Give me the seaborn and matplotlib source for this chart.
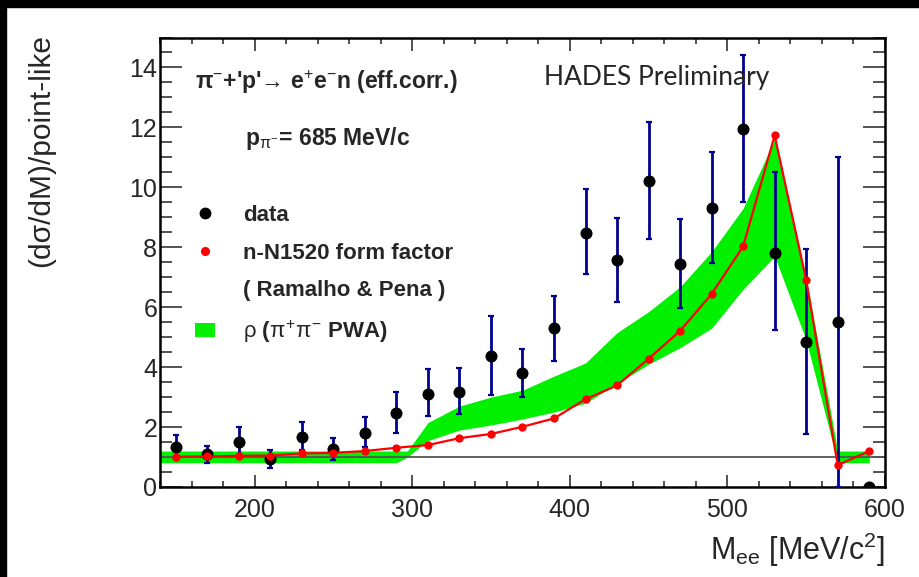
import numpy as np
import pandas as pd
import matplotlib
matplotlib.use("Agg")
import matplotlib.pyplot as plt
import seaborn as sns
from matplotlib.lines import Line2D
from matplotlib.patches import Patch, Rectangle
from matplotlib.ticker import MultipleLocator

# --- values ---
mass = [150, 170, 190, 210, 230, 250, 270, 290, 310, 330, 350, 370,
        390, 410, 430, 450, 470, 490, 510, 530, 550, 570, 590]
data_ratio = [1.34, 1.10, 1.51, 0.93, 1.68, 1.27, 1.79, 2.46, 3.12, 3.17, 4.38, 3.79,
              5.31, 8.49, 7.58, 10.20, 7.43, 9.31, 11.94, 7.82, 4.84, 5.49, 0.0]
err_hi = [1.73, 1.38, 1.99, 1.23, 2.16, 1.63, 2.34, 3.17, 3.93, 3.98, 5.70, 4.59,
          6.38, 9.93, 8.98, 12.18, 8.94, 11.18, 14.42, 10.50, 7.95, 11.01, 0.0]
err_lo = [0.95, 0.80, 1.05, 0.63, 1.22, 0.90, 1.34, 1.79, 2.37, 2.43, 3.07, 3.01,
          4.21, 7.12, 6.18, 8.27, 5.96, 7.46, 9.51, 5.23, 1.76, 0.0, 0.0]
model_ff = [1.01, 1.02, 1.04, 1.05, 1.12, 1.14, 1.20, 1.31, 1.40, 1.63, 1.77, 2.01,
            2.29, 2.93, 3.39, 4.28, 5.21, 6.44, 8.03, 11.73, 6.90, 0.73, 1.20]

# rho (pi+ pi- PWA) band
band_x = [140, 290, 297, 310, 330, 350, 370, 390, 410, 430, 450, 470,
          490, 510, 530, 550, 570, 590]
band_lo = [0.81, 0.81, 1.00, 1.55, 1.90, 2.07, 2.27, 2.50, 2.80, 3.45, 4.10, 4.65,
           5.30, 6.60, 7.70, 4.90, 0.81, 0.81]
band_hi = [1.20, 1.20, 1.20, 2.15, 2.70, 3.00, 3.23, 3.70, 4.14, 5.15, 5.85, 6.68,
           7.85, 9.30, 11.60, 7.00, 1.20, 1.20]

df = pd.DataFrame({"mass": mass, "data": data_ratio, "model": model_ff})

sns.set_style("ticks")
plt.rcParams["font.family"] = ["Liberation Sans", "DejaVu Sans"]
plt.rcParams["mathtext.fontset"] = "custom"
plt.rcParams["mathtext.rm"] = "Liberation Sans"
plt.rcParams["mathtext.it"] = "Liberation Sans"
plt.rcParams["mathtext.bf"] = "Liberation Sans:bold"

fig = plt.figure(figsize=(9.2, 5.77), dpi=100)
ax = fig.add_axes([160 / 920, 1 - 487 / 577, 725 / 920, (487 - 37.5) / 577])

# black frame strips of the slide
fig.add_artist(Rectangle((0, 1 - 7 / 577), 1, 7 / 577, transform=fig.transFigure,
                         color="black", zorder=10))
fig.add_artist(Rectangle((0, 0), 6 / 920, 1, transform=fig.transFigure,
                         color="black", zorder=10))

ax.fill_between(band_x, band_lo, band_hi, color="#00f000", lw=0, zorder=1)
ax.axhline(1, color="#555555", lw=1.3, zorder=2)

yerr = [np.array(data_ratio) - np.array(err_lo), np.array(err_hi) - np.array(data_ratio)]
ax.errorbar(mass, data_ratio, yerr=yerr, fmt="none", ecolor="#00008f",
            elinewidth=2.0, capsize=2.2, capthick=1.6, zorder=3)
sns.scatterplot(data=df, x="mass", y="data", color="black", s=75, linewidth=0,
                ax=ax, zorder=4, clip_on=True)
sns.lineplot(data=df, x="mass", y="model", color="red", lw=1.6, marker="o",
             markersize=6, markeredgewidth=0, ax=ax, zorder=5)

ax.set_xlim(140, 600)
ax.set_ylim(0, 15)
ax.xaxis.set_major_locator(MultipleLocator(100))
ax.xaxis.set_minor_locator(MultipleLocator(20))
ax.yaxis.set_major_locator(MultipleLocator(2))
ax.yaxis.set_minor_locator(MultipleLocator(0.5))
ax.tick_params(axis="y", which="both", direction="in", left=True, right=True,
               labelsize=18, color="#333333", width=1.2, pad=2)
ax.tick_params(axis="y", which="major", length=16)
ax.tick_params(axis="y", which="minor", length=8.5)
ax.tick_params(axis="x", which="both", direction="in", bottom=True, top=True,
               labelsize=18, color="#333333", width=1.2, pad=8)
ax.tick_params(axis="x", which="major", length=9)
ax.tick_params(axis="x", which="minor", length=4)
for s in ax.spines.values():
    s.set_linewidth(1.8)
    s.set_color("black")

ax.set_xlabel(r"M$_{\rm ee}$ [MeV/c$^{2}$]", fontsize=22, loc="right", labelpad=6)
ax.set_ylabel("(d\u03c3/dM)/point-like", fontsize=21.5)
ax.yaxis.set_label_coords(-0.145, 0.749)

ax.text(0.048, 0.901, "\u03c0$^{-}$+'p'\u2192 e$^{+}$e$^{-}$n (eff.corr.)",
        transform=ax.transAxes, fontsize=16.5, fontweight="bold", va="center")
ax.text(0.117, 0.776, r"p$_{\pi^{-}}$= 685 MeV/c",
        transform=ax.transAxes, fontsize=16.5, fontweight="bold", va="center")
ax.text(0.53, 0.91, "HADES Preliminary", transform=ax.transAxes, fontsize=19,
        family="Lato", va="center")

handles = [
    Line2D([], [], ls="none", marker="o", color="black", markersize=7.5),
    Line2D([], [], ls="none", marker="o", color="red", markersize=5.5),
    Line2D([], [], ls="none"),
    Patch(facecolor="#00f000", edgecolor="none"),
]
labels = ["data", "n-N1520 form factor", "( Ramalho & Pena )",
          r"$\rho$ ($\pi^{+}\pi^{-}$ PWA)"]
leg = ax.legend(handles, labels, loc="upper left", bbox_to_anchor=(0.036, 0.648),
                frameon=False, prop={"weight": "bold", "size": 16},
                labelspacing=0.76, handlelength=0.9, handleheight=0.55,
                handletextpad=1.26, borderaxespad=0)

plt.savefig("out.png", dpi=100)
